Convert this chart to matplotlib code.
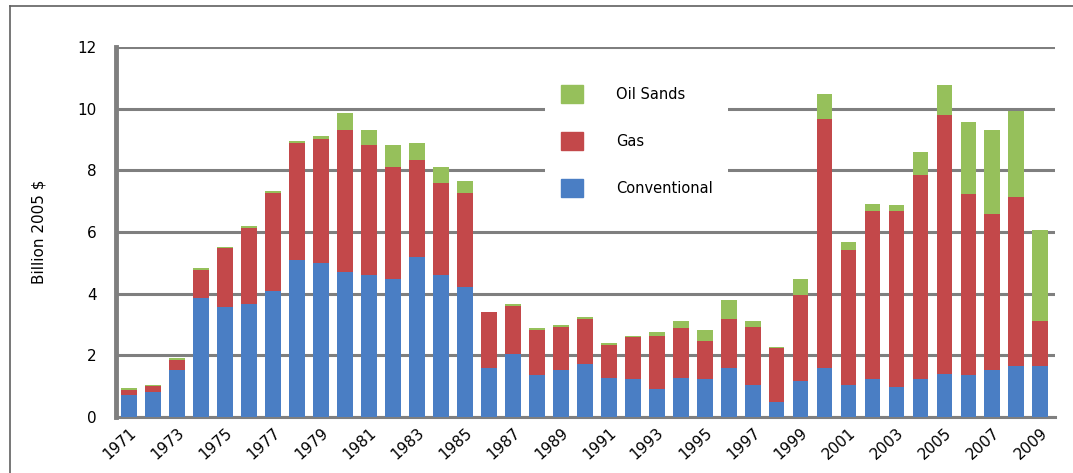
import matplotlib.pyplot as plt
from matplotlib.lines import Line2D
from matplotlib.patches import Patch

years = list(range(1971, 2010))
conventional = [0.72, 0.82, 1.52, 3.86, 3.57, 3.66, 4.10, 5.08, 5.00, 4.71,
                4.59, 4.46, 5.20, 4.59, 4.22, 1.60, 2.03, 1.36, 1.52, 1.72,
                1.28, 1.23, 0.92, 1.28, 1.23, 1.60, 1.03, 0.49, 1.16, 1.60,
                1.03, 1.23, 0.98, 1.23, 1.41, 1.36, 1.54, 1.65, 1.65]
gas = [0.16, 0.17, 0.33, 0.90, 1.90, 2.48, 3.15, 3.81, 4.02, 4.61,
       4.24, 3.64, 3.14, 3.00, 3.06, 1.79, 1.58, 1.47, 1.41, 1.46,
       1.06, 1.36, 1.72, 1.60, 1.22, 1.57, 1.90, 1.74, 2.81, 8.07,
       4.40, 5.45, 5.70, 6.63, 8.39, 5.87, 5.04, 5.47, 1.47]
oil_sands = [0.06, 0.06, 0.05, 0.08, 0.04, 0.04, 0.09, 0.06, 0.11, 0.54,
             0.49, 0.73, 0.54, 0.51, 0.38, 0.03, 0.05, 0.05, 0.06, 0.07,
             0.06, 0.05, 0.11, 0.24, 0.38, 0.63, 0.19, 0.05, 0.51, 0.80,
             0.24, 0.24, 0.19, 0.73, 0.98, 2.34, 2.74, 2.79, 2.93]

BLUE = "#4A7EC4"
RED = "#C3484A"
GREEN = "#96C05B"
GRID = "#7F7F7F"

fig = plt.figure(figsize=(10.73, 4.73), dpi=100)
ax = fig.add_axes([0.108, 0.1184, 0.875, 0.7822])

gas_base = conventional
oil_base = [c + g for c, g in zip(conventional, gas)]
ax.bar(years, conventional, width=0.66, color=BLUE, zorder=3)
ax.bar(years, gas, width=0.66, bottom=gas_base, color=RED, zorder=3)
ax.bar(years, oil_sands, width=0.66, bottom=oil_base, color=GREEN, zorder=3)

ax.set_xlim(1970.45, 2009.6)
ax.set_ylim(0, 12)
ax.set_yticks(range(0, 13, 2))
ax.set_xticks(years[::2])
ax.set_xticklabels([str(y) for y in years[::2]], rotation=42, ha="right",
                   rotation_mode="anchor", fontsize=11)
ax.tick_params(axis="y", labelsize=11, length=0, pad=14)
ax.tick_params(axis="x", length=0, pad=6)
ax.yaxis.grid(True, color=GRID, linewidth=2.2, zorder=0)
ax.set_axisbelow(True)

for side in ("top", "right"):
    ax.spines[side].set_visible(False)
ax.spines["left"].set_color(GRID)
ax.spines["left"].set_linewidth(3.5)
ax.spines["bottom"].set_color(GRID)
ax.spines["bottom"].set_linewidth(2.2)

ax.set_ylabel("Billion 2005 $", fontsize=11, labelpad=22)

handles = [Patch(color=GREEN), Patch(color=RED), Patch(color=BLUE)]
leg = ax.legend(handles, ["Oil Sands", "Gas", "Conventional"],
                loc="upper left", bbox_to_anchor=(0.457, 0.94),
                frameon=True, fancybox=False, edgecolor="white",
                framealpha=1.0, fontsize=10.5, handlelength=1.5,
                handleheight=1.5, handletextpad=2.25, labelspacing=2.0,
                borderpad=1.1, borderaxespad=0)
leg.set_zorder(5)
leg.get_frame().set_linewidth(0)

# outer frame (left and top only)
fig.add_artist(Line2D([0.0095, 0.0095], [0.0, 0.987], color="#606060",
                      linewidth=1.2, transform=fig.transFigure))
fig.add_artist(Line2D([0.0095, 1.0], [0.987, 0.987], color="#606060",
                      linewidth=1.2, transform=fig.transFigure))

fig.savefig("out.png", dpi=100)
